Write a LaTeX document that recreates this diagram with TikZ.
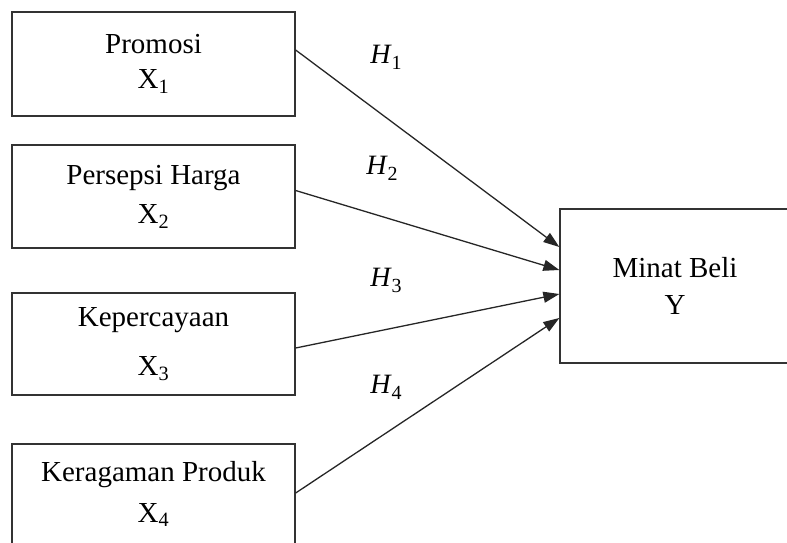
\documentclass[tikz,border=0pt]{standalone}
\usepackage{fontspec}
\setmainfont{Liberation Serif}
\usetikzlibrary{arrows.meta}

\newcommand{\hyplabel}[1]{\textit{H}\raisebox{-6pt}{\fontsize{20}{20}\selectfont #1}}

\tikzset{
  varbox/.style={draw=black!80, line width=1.3pt, minimum width=283pt,
    align=center, inner sep=0pt, font=\fontsize{29}{35}\selectfont},
  hyp/.style={-{Triangle[length=16pt,width=11pt]}, line width=1.3pt, draw=black!85},
  hlabel/.style={font=\fontsize{28}{34}\selectfont}
}

\begin{document}
\begin{tikzpicture}[x=1pt, y=-1pt]
  \useasboundingbox (0,0) rectangle (787,542);

  % independent variables
  \node[varbox, minimum height=104pt] (promosi) at (153.5,64) {Promosi\\X\textsubscript{1}};
  \node[varbox, minimum height=103pt] (harga) at (153.5,196.5) {Persepsi Harga\\[4pt]X\textsubscript{2}};
  \node[varbox, minimum height=102pt] (percaya) at (153.5,344) {Kepercayaan\\[14pt]X\textsubscript{3}};
  \node[varbox, minimum height=100pt] (ragam) at (153.5,494) {Keragaman Produk\\[6pt]X\textsubscript{4}};

  % dependent variable
  \node[varbox, minimum width=230pt, minimum height=154pt] (minat) at (675,286) {Minat Beli\\[2pt]Y};

  % hypotheses
  \draw[hyp] ([yshift=14pt]promosi.east) -- ([yshift=39pt]minat.west);
  \draw[hyp] ([yshift=6pt]harga.east) -- ([yshift=16pt]minat.west);
  \draw[hyp] ([yshift=-4pt]percaya.east) -- ([yshift=-8pt]minat.west);
  \draw[hyp] ([yshift=1pt]ragam.east) -- ([yshift=-32pt]minat.west);

  \node[hlabel] (h1) at (386,57) {\hyplabel{1}};
  \node[hlabel] (h2) at (382,168) {\hyplabel{2}};
  \node[hlabel] (h3) at (386,280) {\hyplabel{3}};
  \node[hlabel] (h4) at (386,387) {\hyplabel{4}};
\end{tikzpicture}
\end{document}
